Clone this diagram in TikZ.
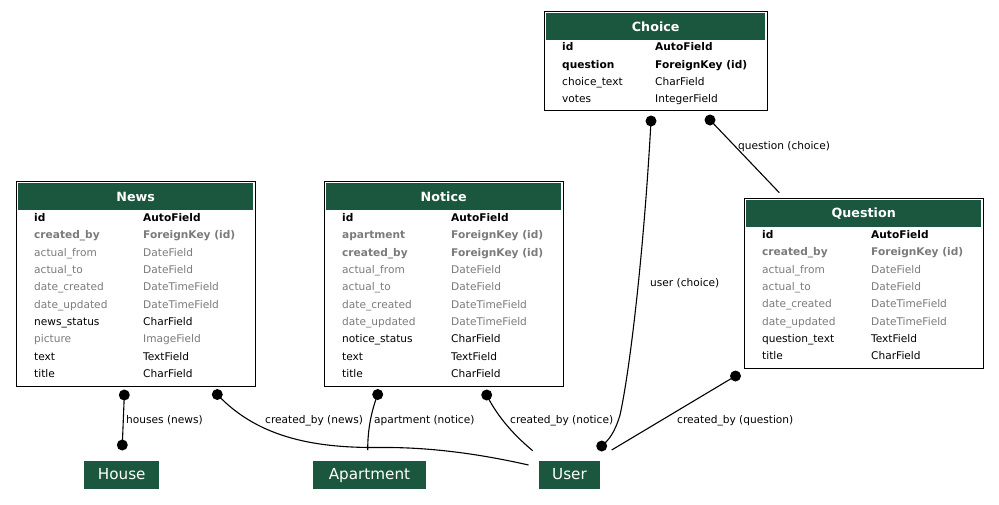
\documentclass[tikz,border=0pt]{standalone}
\usepackage{fontspec}
\setmainfont{DejaVu Sans}
\definecolor{hdrgreen}{HTML}{1B563F}
\definecolor{fieldgray}{HTML}{7B7B7B}
\tikzset{
  tbl/.style={draw=black,line width=1pt,inner sep=0pt,anchor=north west},
  hdr/.style={fill=hdrgreen,inner sep=0pt,anchor=north west,text=white,font=\fontsize{12.7}{14}\selectfont\bfseries},
  fld/.style={anchor=west,inner sep=0pt,text height=10pt,text depth=0.4pt},
  fplain/.style={font=\fontsize{10.6}{12}\selectfont,text=black},
  fbold/.style={font=\fontsize{10.6}{12}\selectfont\bfseries,text=black},
  fgray/.style={font=\fontsize{10.6}{12}\selectfont,text=fieldgray},
  fboldgray/.style={font=\fontsize{10.6}{12}\selectfont\bfseries,text=fieldgray},
  ext/.style={fill=hdrgreen,text=white,inner sep=0pt,minimum height=28pt,text height=11pt,text depth=3pt,font=\fontsize{15.2}{17}\selectfont},
  fkdot/.style={circle,fill=black,minimum size=11pt,inner sep=0pt},
  conn/.style={draw=black,line width=1.1pt},
  elbl/.style={anchor=west,inner sep=0pt,font=\fontsize{10.6}{12}\selectfont,text height=10pt,text depth=0.4pt},
}
\newcommand\fieldrows[5]{%
  \foreach \st/\fa/\fb [count=\i from 0] in {#5} {
    \node[fld,\st] (#1-l\i) at (#2,#4+\i*17.35) {\fa};
    \node[fld,\st] (#1-r\i) at (#3,#4+\i*17.35) {\fb};
  }}
\begin{document}
\begin{tikzpicture}[x=1pt,y=-1pt]
\useasboundingbox (0,0) rectangle (999,504);
\fill[white] (0,0) rectangle (999,504);

% ---------- News ----------
\node[tbl,minimum width=239pt,minimum height=205pt] (news) at (16,181) {};
\node[hdr,minimum width=235pt,minimum height=27pt] (newsh) at (18,183) {News};
\fieldrows{news}{34}{143}{216.5}{
  fbold/id/AutoField,
  fboldgray/created\_by/ForeignKey (id),
  fgray/actual\_from/DateField,
  fgray/actual\_to/DateField,
  fgray/date\_created/DateTimeField,
  fgray/date\_updated/DateTimeField,
  fplain/news\_status/CharField,
  fgray/picture/ImageField,
  fplain/text/TextField,
  fplain/title/CharField}

% ---------- Notice ----------
\node[tbl,minimum width=239pt,minimum height=205pt] (notice) at (324,181) {};
\node[hdr,minimum width=235pt,minimum height=27pt] (noticeh) at (326,183) {Notice};
\fieldrows{notice}{342}{451}{216.5}{
  fbold/id/AutoField,
  fboldgray/apartment/ForeignKey (id),
  fboldgray/created\_by/ForeignKey (id),
  fgray/actual\_from/DateField,
  fgray/actual\_to/DateField,
  fgray/date\_created/DateTimeField,
  fgray/date\_updated/DateTimeField,
  fplain/notice\_status/CharField,
  fplain/text/TextField,
  fplain/title/CharField}

% ---------- Choice ----------
\node[tbl,minimum width=223pt,minimum height=99pt] (choice) at (544,11) {};
\node[hdr,minimum width=219pt,minimum height=27pt] (choiceh) at (546,13) {Choice};
\fieldrows{choice}{562}{655}{46}{
  fbold/id/AutoField,
  fbold/question/ForeignKey (id),
  fplain/choice\_text/CharField,
  fplain/votes/IntegerField}

% ---------- Question ----------
\node[tbl,minimum width=239pt,minimum height=170pt] (question) at (744,198) {};
\node[hdr,minimum width=235pt,minimum height=27pt] (questionh) at (746,200) {Question};
\fieldrows{question}{762}{871}{233.5}{
  fbold/id/AutoField,
  fboldgray/created\_by/ForeignKey (id),
  fgray/actual\_from/DateField,
  fgray/actual\_to/DateField,
  fgray/date\_created/DateTimeField,
  fgray/date\_updated/DateTimeField,
  fplain/question\_text/TextField,
  fplain/title/CharField}

% ---------- external models ----------
\node[ext,minimum width=75pt] (house) at (121.7,475) {House};
\node[ext,minimum width=113pt] (apartment) at (369.5,475) {Apartment};
\node[ext,minimum width=61pt] (user) at (569.5,475) {User};

% ---------- connector ends ----------
\node[fkdot] (d1) at (124.3,395) {};
\node[fkdot] (d2) at (122.3,445) {};
\node[fkdot] (d3) at (217.3,394.5) {};
\node[fkdot] (d4) at (377.7,394.5) {};
\node[fkdot] (d5) at (486.7,395) {};
\node[fkdot] (d6) at (651,121) {};
\node[fkdot] (d7) at (601.7,446) {};
\node[fkdot] (d8) at (710,120) {};
\node[fkdot] (d9) at (735.5,376) {};
\coordinate (u1) at (528.5,465);
\coordinate (u2) at (532.7,450.7);
\coordinate (u3) at (611.7,450);
\coordinate (a1) at (367.7,450);
\coordinate (q1) at (779.3,192.7);
\coordinate (m1) at (380,447.5);
\coordinate (m2) at (620,415);

% ---------- connectors ----------
\draw[conn] (d1.center) -- (d2.center);
\draw[conn] (d3.center) .. controls (260,440) and (320,448) .. (m1)
            .. controls (430,447) and (480,454) .. (u1);
\draw[conn] (d4.center) .. controls (371,412) and (367.7,430) .. (a1);
\draw[conn] (d5.center) .. controls (495,412) and (510,432) .. (u2);
\draw[conn] (d6.center) .. controls (644,250) and (630,370) .. (m2)
            .. controls (615,432) and (609,440) .. (d7.center);
\draw[conn] (d8.center) -- (q1);
\draw[conn] (d9.center) -- (u3);

% ---------- connector labels ----------
\node[elbl] (l1) at (126,419) {houses (news)};
\node[elbl] (l2) at (265,419) {created\_by (news)};
\node[elbl] (l3) at (374,419) {apartment (notice)};
\node[elbl] (l4) at (510,419) {created\_by (notice)};
\node[elbl] (l5) at (677,419) {created\_by (question)};
\node[elbl] (l6) at (650,282) {user (choice)};
\node[elbl] (l7) at (738,145) {question (choice)};
\end{tikzpicture}
\end{document}
